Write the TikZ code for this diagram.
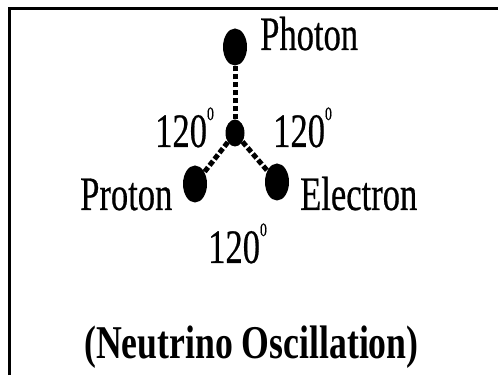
\documentclass[tikz,border=0pt]{standalone}
\usepackage{fontspec}
\setmainfont{Liberation Serif}
\newfontfamily\heavyfont[FakeBold=0.6]{Liberation Serif}
\usepackage{graphicx}
\usetikzlibrary{shapes.geometric}
\newcommand{\narrowtext}[2][0.72]{\scalebox{#1}[1]{#2}}
\newcommand{\zerosup}{\raisebox{27pt}{\fontsize{19}{19}\selectfont 0}}
\begin{document}
\begin{tikzpicture}[x=1pt,y=1pt,
  dot/.style={ellipse, fill=black, inner sep=0pt, minimum width=24pt, minimum height=37pt},
  hub/.style={ellipse, fill=black, inner sep=0pt, minimum width=19pt, minimum height=27pt},
  lbl/.style={anchor=base west, inner sep=0pt, font=\heavyfont\fontsize{48}{48}\selectfont},
  link/.style={line width=5pt, dash pattern=on 5.5pt off 2.5pt}]
  \useasboundingbox (0,0) rectangle (498,375);
  \draw[line width=3pt] (9,0) -- (9,366) -- (498,366);
  \node (C) [hub] at (235,242) {};
  \node (Ph) [dot, above of=C, node distance=86pt] {};
  \node (Pr) [dot, below of=C, node distance=51pt, xshift=-40pt] {};
  \node (El) [dot, below of=C, node distance=49pt, xshift=42pt] {};
  \path[link] (C) edge (Ph)
              (C) edge (Pr)
              (C) edge (El);
  \node (phl) [lbl] at (260,325) {\narrowtext{Photon}};
  \node (prl) [lbl] at (80,165) {\narrowtext{Proton}};
  \node (ell) [lbl] at (300,165) {\narrowtext{Electron}};
  \node (al) [lbl] at (155,228) {\narrowtext{120\zerosup}};
  \node (ar) [lbl] at (273,228) {\narrowtext{120\zerosup}};
  \node (ab) [lbl] at (208,112) {\narrowtext{120\zerosup}};
  \node (title) [lbl, font=\fontsize{47}{47}\selectfont\bfseries] at (84,17)
    {\narrowtext[0.76]{(Neutrino Oscillation)}};
\end{tikzpicture}
\end{document}
